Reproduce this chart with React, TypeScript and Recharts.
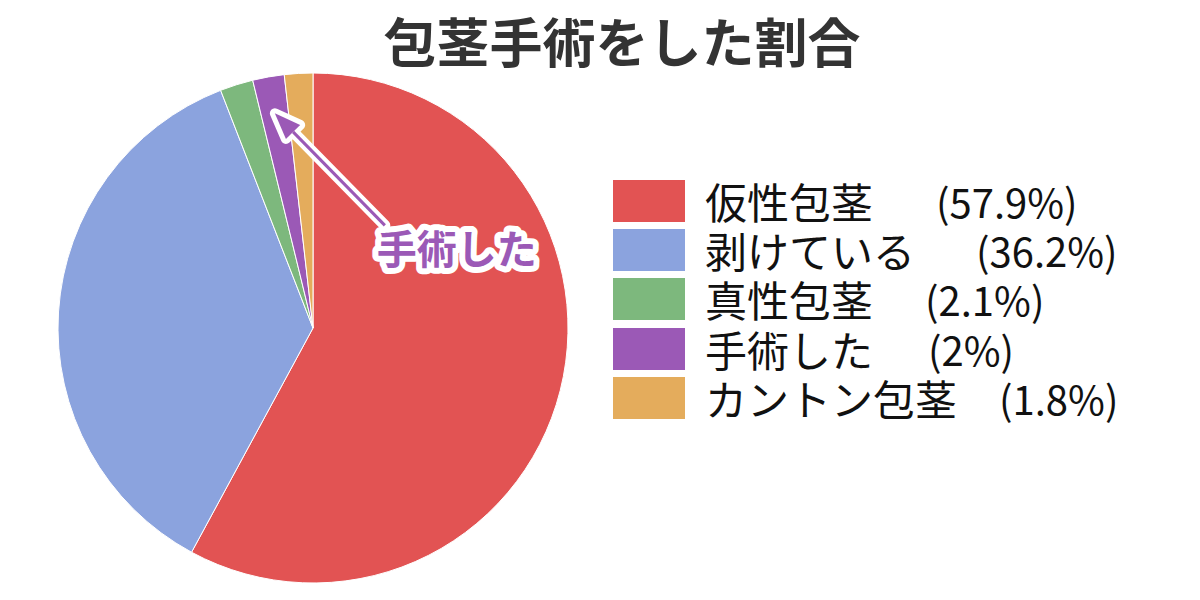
import React from 'react';
import { PieChart, Pie, Cell, Legend } from 'recharts';

const categories = ['仮性包茎', '剥けている', '真性包茎', '手術した', 'カントン包茎'];
const values = [57.9, 36.2, 2.1, 2, 1.8];
const colors = ['#E25353', '#8BA3DE', '#7DB87D', '#9B59B6', '#E4AC5C'];
const titleText = '包茎手術をした割合';
const annotationText = '手術した';
const annotatedIndex = 3;

const pctGaps = [63, 61, 52, 55, 42];

const data = categories.map((name, i) => ({ name, value: values[i] }));

const FONT = '"Noto Sans CJK JP", "Noto Sans", sans-serif';
const RAD = Math.PI / 180;

const renderLabel = (props: any) => {
  const { index, cx, cy, midAngle, outerRadius } = props;
  if (index !== annotatedIndex) return null;
  const r = outerRadius * 0.855;
  const tx = cx + r * Math.cos(-midAngle * RAD);
  const ty = cy + r * Math.sin(-midAngle * RAD);
  const sx = tx + 110;
  const sy = ty + 112;
  const ang = Math.atan2(ty - sy, tx - sx);
  const hl = 26;
  const hw = 10;
  const bx = tx - hl * Math.cos(ang);
  const by = ty - hl * Math.sin(ang);
  const px = -Math.sin(ang);
  const py = Math.cos(ang);
  const head = `${tx},${ty} ${bx + hw * px},${by + hw * py} ${bx - hw * px},${by - hw * py}`;
  const textX = sx - 8;
  const textY = sy + 39;
  return (
    <g>
      <line x1={sx} y1={sy} x2={bx} y2={by} stroke="#fff" strokeWidth={11} strokeLinecap="round" />
      <polygon points={head} fill="#fff" stroke="#fff" strokeWidth={10} strokeLinejoin="round" />
      <line x1={sx} y1={sy} x2={bx} y2={by} stroke={colors[annotatedIndex]} strokeWidth={3} />
      <polygon points={head} fill={colors[annotatedIndex]} />
      <text
        x={textX}
        y={textY}
        fontFamily={FONT}
        fontWeight={700}
        fontSize={40}
        fill="#fff"
        stroke="#fff"
        strokeWidth={12}
        strokeLinejoin="round"
      >
        {annotationText}
      </text>
      <text x={textX} y={textY} fontFamily={FONT} fontWeight={700} fontSize={40} fill={colors[annotatedIndex]}>
        {annotationText}
      </text>
    </g>
  );
};

const renderLegend = () => (
  <div style={{ fontFamily: FONT }}>
    {data.map((d, i) => (
      <div key={d.name} style={{ display: 'flex', alignItems: 'center', height: 49.3 }}>
        <div style={{ width: 72, height: 42, background: colors[i], flexShrink: 0 }} />
        <span style={{ marginLeft: 20, fontSize: 42, color: '#111', whiteSpace: 'nowrap', lineHeight: '44px' }}>
          {d.name}
        </span>
        <span style={{ marginLeft: pctGaps[i], fontSize: 40, color: '#111', whiteSpace: 'nowrap', lineHeight: '44px' }}>
          ({d.value}%)
        </span>
      </div>
    ))}
  </div>
);

export default function App() {
  return (
    <div style={{ position: 'absolute', left: 0, top: 0, width: 1200, height: 600, background: '#fff' }}>
      <div
        style={{
          position: 'absolute',
          left: 0,
          top: 0,
          width: 1244,
          textAlign: 'center',
          fontFamily: FONT,
          fontWeight: 700,
          fontSize: 53,
          lineHeight: '80px',
          color: '#333',
        }}
      >
        {titleText}
      </div>
      <PieChart
        width={1200}
        height={600}
        margin={{ top: 0, right: 0, bottom: 0, left: 0 }}
        style={{ position: 'absolute', left: 0, top: 0 }}
      >
        <Pie
          data={data}
          dataKey="value"
          nameKey="name"
          cx={313}
          cy={328}
          outerRadius={255}
          startAngle={90}
          endAngle={-270}
          stroke="#fff"
          strokeWidth={1}
          label={renderLabel}
          labelLine={false}
          isAnimationActive={false}
        >
          {data.map((d, i) => (
            <Cell key={d.name} fill={colors[i]} />
          ))}
        </Pie>
        <Legend
          content={renderLegend}
          wrapperStyle={{ position: 'absolute', left: 613, top: 176, width: 560 }}
        />
      </PieChart>
    </div>
  );
}
